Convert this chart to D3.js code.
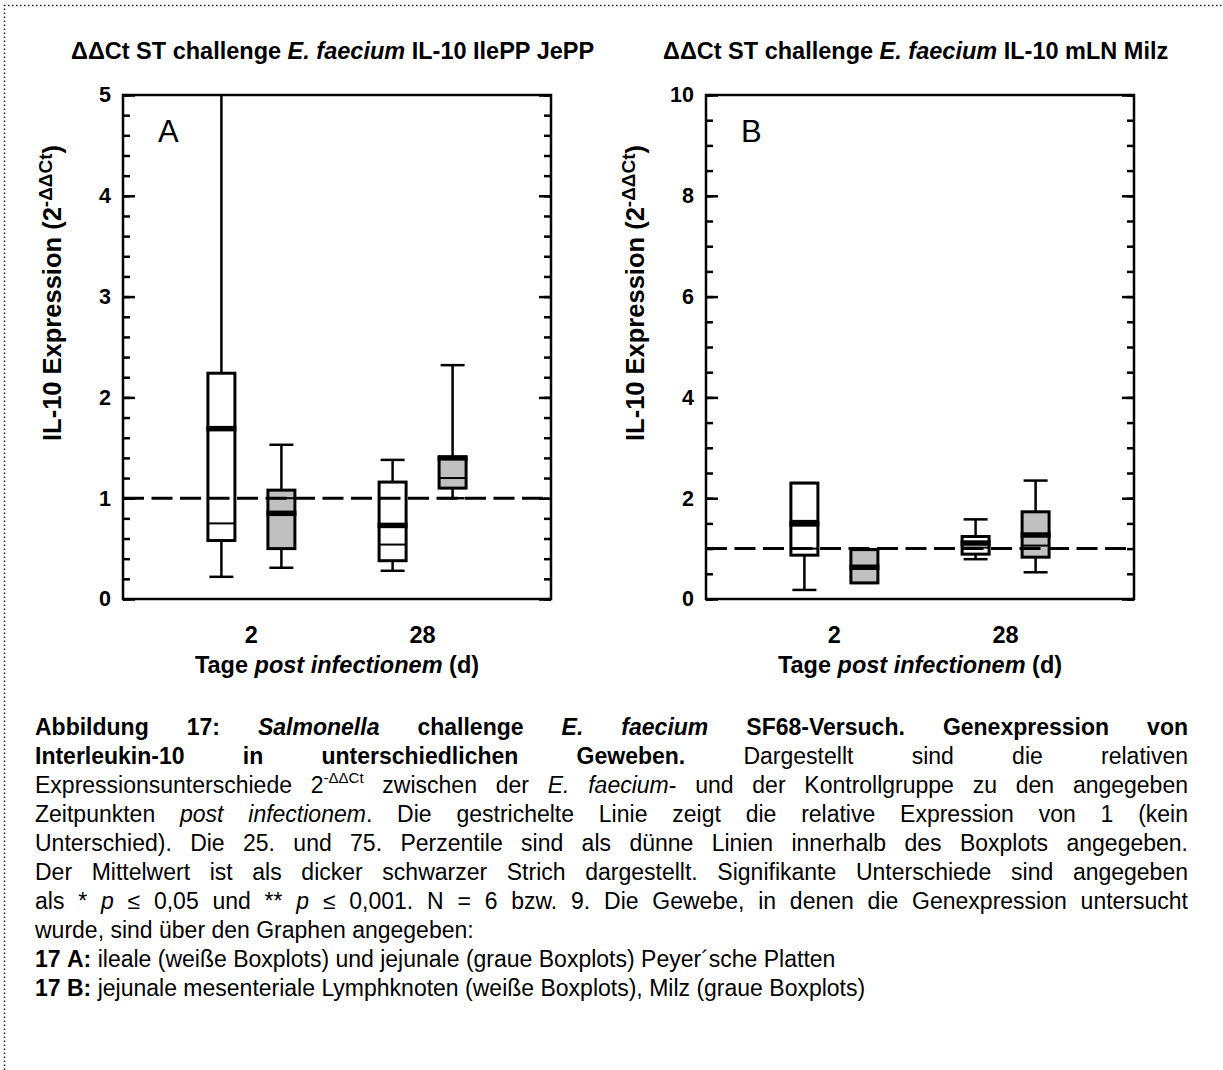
<!DOCTYPE html>
<html>
<head>
<meta charset="utf-8">
<script src="https://cdn.jsdelivr.net/npm/d3@7"></script>
<style>
body { margin: 0; background: #fff; }
svg { font-family: "Liberation Sans", Arial, sans-serif; }
</style>
</head>
<body>
<div id="chart"></div>
<script>
// categories
var days = ["2", "28"];
var groups = ["weiss", "grau"];
var boxDay = ["2", "2", "28", "28"];
var boxGroup = ["weiss", "grau", "weiss", "grau"];

// panel A: IlePP (weiss), JePP (grau)
var aWhiskLow = [0.22, 0.31, 0.28, 1.00];
var aBoxLow = [0.58, 0.50, 0.38, 1.10];
var aThin = [[0.75], [1.00], [0.54], [1.20]];
var aMean = [1.69, 0.85, 0.73, 1.40];
var aBoxHigh = [2.24, 1.08, 1.16, 1.40];
var aWhiskHigh = [5.60, 1.53, 1.38, 2.32];
var aTicks = [0, 1, 2, 3, 4, 5];

// panel B: mLN (weiss), Milz (grau)
var bWhiskLow = [0.18, 0.32, 0.79, 0.53];
var bBoxLow = [0.87, 0.32, 0.89, 0.83];
var bThin = [[1.00, 1.55], [0.98], [1.02], [1.06]];
var bMean = [1.49, 0.63, 1.11, 1.27];
var bBoxHigh = [2.30, 0.98, 1.24, 1.73];
var bWhiskHigh = [2.30, 0.98, 1.58, 2.35];
var bTicks = [0, 2, 4, 6, 8, 10];

// layout
var svgWidth = 1223;
var svgHeight = 1070;
var panelTop = 95;
var panelWidth = 428;
var panelHeight = 504;

var svg = d3.select("#chart")
    .append("svg")
    .attr("width", svgWidth)
    .attr("height", svgHeight);

svg.append("rect")
    .attr("width", svgWidth)
    .attr("height", svgHeight)
    .attr("fill", "#fff");

// dotted page border
svg.append("path")
    .attr("d", "M4.5,1070V5.5H1223")
    .attr("fill", "none")
    .attr("stroke", "#222")
    .attr("stroke-width", 1.5)
    .attr("stroke-dasharray", "1.5,2.5");

function drawPanel(p) {
    var g = svg.append("g")
        .attr("transform", `translate(${p.left}, ${panelTop})`);

    var y = d3.scaleLinear().domain([0, p.yMax]).range([panelHeight, 0]);
    var x = d3.scalePoint().domain(days).range([0, panelWidth]).padding(0.75);
    var sub = d3.scalePoint().domain(groups).range([-30, 30]);

    // title
    var title = svg.append("text")
        .attr("x", p.titleX)
        .attr("y", 59)
        .attr("font-size", 23.5)
        .attr("font-weight", "bold");
    title.append("tspan").text("\u0394\u0394Ct ST challenge ");
    title.append("tspan").attr("font-style", "italic").text("E. faecium");
    title.append("tspan").text(" IL-10 " + p.tissue);

    g.append("clipPath")
        .attr("id", "clip" + p.id)
        .append("rect")
        .attr("width", panelWidth)
        .attr("height", panelHeight);

    // minor and major ticks, inward on both sides
    var minor = d3.range(0, p.yMax + 1e-9, p.minorStep);
    g.append("g")
        .call(d3.axisLeft(y).tickValues(minor).tickSize(-7).tickSizeOuter(0).tickFormat(""));
    g.append("g")
        .attr("transform", `translate(${panelWidth}, 0)`)
        .call(d3.axisRight(y).tickValues(minor).tickSize(-7).tickSizeOuter(0).tickFormat(""));
    g.append("g")
        .attr("class", "ylab")
        .call(d3.axisLeft(y).tickValues(p.ticks).tickSize(-12).tickSizeOuter(0)
            .tickPadding(12).tickFormat(d3.format("d")));
    g.append("g")
        .attr("transform", `translate(${panelWidth}, 0)`)
        .call(d3.axisRight(y).tickValues(p.ticks).tickSize(-12).tickSizeOuter(0).tickFormat(""));

    g.selectAll(".domain").remove();
    g.selectAll(".tick line").attr("stroke", "#000").attr("stroke-width", 2.5);
    g.selectAll(".ylab text")
        .attr("font-family", "Liberation Sans, Arial, sans-serif")
        .attr("font-size", 21.5)
        .attr("font-weight", "bold")
        .attr("fill", "#000");

    // box data
    var items = d3.range(4).map(i => ({
        day: boxDay[i],
        grp: boxGroup[i],
        lo: p.whiskLow[i],
        q1: p.boxLow[i],
        thin: p.thin[i],
        mean: p.mean[i],
        q3: p.boxHigh[i],
        hi: p.whiskHigh[i]
    }));

    var boxes = g.append("g")
        .attr("clip-path", `url(#clip${p.id})`)
        .selectAll("g")
        .data(items)
        .enter()
        .append("g")
        .attr("transform", d => `translate(${x(d.day) + sub(d.grp)}, 0)`);

    var bw = 27;
    var cw = 24;

    // whiskers
    boxes.append("line")
        .attr("y1", d => y(d.hi)).attr("y2", d => y(d.q3))
        .attr("stroke", "#000").attr("stroke-width", 2.5);
    boxes.append("line")
        .attr("y1", d => y(d.q1)).attr("y2", d => y(d.lo))
        .attr("stroke", "#000").attr("stroke-width", 2.5);
    boxes.append("line")
        .attr("x1", -cw / 2).attr("x2", cw / 2)
        .attr("y1", d => y(d.hi)).attr("y2", d => y(d.hi))
        .attr("stroke", "#000").attr("stroke-width", 2.5);
    boxes.append("line")
        .attr("x1", -cw / 2).attr("x2", cw / 2)
        .attr("y1", d => y(d.lo)).attr("y2", d => y(d.lo))
        .attr("stroke", "#000").attr("stroke-width", 2.5);

    // box
    boxes.append("rect")
        .attr("x", -bw / 2)
        .attr("width", bw)
        .attr("y", d => y(d.q3))
        .attr("height", d => y(d.q1) - y(d.q3))
        .attr("fill", d => d.grp === "grau" ? "#c0c0c0" : "#fff")
        .attr("stroke", "#000")
        .attr("stroke-width", 3);

    // thin percentile lines
    boxes.selectAll(".thin")
        .data(d => d.thin)
        .enter()
        .append("line")
        .attr("class", "thin")
        .attr("x1", -bw / 2).attr("x2", bw / 2)
        .attr("y1", v => y(v)).attr("y2", v => y(v))
        .attr("stroke", "#000").attr("stroke-width", 2);

    // mean, thick
    boxes.append("line")
        .attr("x1", -bw / 2 - 1.5).attr("x2", bw / 2 + 1.5)
        .attr("y1", d => y(d.mean)).attr("y2", d => y(d.mean))
        .attr("stroke", "#000").attr("stroke-width", 5.5);

    // reference line at 1
    g.append("line")
        .attr("x1", 0).attr("x2", panelWidth)
        .attr("y1", y(1)).attr("y2", y(1))
        .attr("stroke", "#000")
        .attr("stroke-width", 3)
        .attr("stroke-dasharray", "21,7.5");

    // frame
    g.append("rect")
        .attr("width", panelWidth)
        .attr("height", panelHeight)
        .attr("fill", "none")
        .attr("stroke", "#000")
        .attr("stroke-width", 2.5);

    // panel letter
    g.append("text")
        .attr("x", 35)
        .attr("y", 47)
        .attr("font-size", 31)
        .text(p.id);

    // x tick labels
    g.selectAll(".xlab")
        .data(days)
        .enter()
        .append("text")
        .attr("class", "xlab")
        .attr("x", d => x(d))
        .attr("y", panelHeight + 44)
        .attr("text-anchor", "middle")
        .attr("font-size", 23.5)
        .attr("font-weight", "bold")
        .text(d => d);

    // x axis title
    var xt = g.append("text")
        .attr("x", panelWidth / 2)
        .attr("y", panelHeight + 74)
        .attr("text-anchor", "middle")
        .attr("font-size", 23.5)
        .attr("font-weight", "bold");
    xt.append("tspan").text("Tage ");
    xt.append("tspan").attr("font-style", "italic").text("post infectionem");
    xt.append("tspan").text(" (d)");

    // y axis title
    var yt = g.append("text")
        .attr("transform", `translate(-62, 198) rotate(-90)`)
        .attr("text-anchor", "middle")
        .attr("font-size", 25.5)
        .attr("font-weight", "bold");
    yt.append("tspan").text("IL-10 Expression (2");
    yt.append("tspan").attr("font-size", 19).attr("dy", -9).text("-\u0394\u0394Ct");
    yt.append("tspan").attr("dy", 9).text(")");
}

drawPanel({
    id: "A", left: 123, titleX: 71, yMax: 5, minorStep: 0.2, ticks: aTicks, tissue: "IlePP JePP",
    whiskLow: aWhiskLow, boxLow: aBoxLow, thin: aThin, mean: aMean, boxHigh: aBoxHigh, whiskHigh: aWhiskHigh
});
drawPanel({
    id: "B", left: 706, titleX: 663, yMax: 10, minorStep: 0.5, ticks: bTicks, tissue: "mLN Milz",
    whiskLow: bWhiskLow, boxLow: bBoxLow, thin: bThin, mean: bMean, boxHigh: bBoxHigh, whiskHigh: bWhiskHigh
});

// caption lines, runs: b bold, i italic, s superscript
var captionLines = [
    [{t: "Abbildung 17: ", b: 1}, {t: "Salmonella", b: 1, i: 1}, {t: " challenge ", b: 1}, {t: "E. faecium", b: 1, i: 1}, {t: " SF68-Versuch. Genexpression von", b: 1}],
    [{t: "Interleukin-10 in unterschiedlichen Geweben.", b: 1}, {t: " Dargestellt sind die relativen"}],
    [{t: "Expressionsunterschiede 2"}, {t: "-\u0394\u0394Ct", s: 1}, {t: " zwischen der "}, {t: "E. faecium", i: 1}, {t: "- und der Kontrollgruppe zu den angegeben"}],
    [{t: "Zeitpunkten "}, {t: "post infectionem", i: 1}, {t: ". Die gestrichelte Linie zeigt die relative Expression von 1 (kein"}],
    [{t: "Unterschied). Die 25. und 75. Perzentile sind als d\u00fcnne Linien innerhalb des Boxplots angegeben."}],
    [{t: "Der Mittelwert ist als dicker schwarzer Strich dargestellt. Signifikante Unterschiede sind angegeben"}],
    [{t: "als * "}, {t: "p", i: 1}, {t: " \u2264 0,05 und ** "}, {t: "p", i: 1}, {t: " \u2264 0,001. N = 6 bzw. 9. Die Gewebe, in denen die Genexpression untersucht"}],
    [{t: "wurde, sind \u00fcber den Graphen angegeben:"}],
    [{t: "17 A:", b: 1}, {t: " ileale (wei\u00dfe Boxplots) und jejunale (graue Boxplots) Peyer\u00b4sche Platten"}],
    [{t: "17 B:", b: 1}, {t: " jejunale mesenteriale Lymphknoten (wei\u00dfe Boxplots), Milz (graue Boxplots)"}]
];
var justified = [true, true, true, true, true, true, true, false, false, false];

var capLeft = 35;
var capRight = 1188;
var capTop = 735;
var capStep = 29;
var capSize = 23;

var cap = svg.append("g").attr("font-size", capSize);

captionLines.forEach(function(runs, li) {
    // split runs into words
    var words = [];
    var cur = [];
    runs.forEach(function(r) {
        r.t.split(" ").forEach(function(part, k) {
            if (k > 0 && cur.length) { words.push(cur); cur = []; }
            if (part.length) cur.push(Object.assign({}, r, {t: part}));
        });
    });
    if (cur.length) words.push(cur);

    var baseY = capTop + li * capStep;
    var nodes = words.map(function(w) {
        var t = cap.append("text").attr("y", baseY);
        var raised = false;
        w.forEach(function(r) {
            var ts = t.append("tspan").text(r.t);
            if (r.b) ts.attr("font-weight", "bold");
            if (r.i) ts.attr("font-style", "italic");
            if (r.s) { ts.attr("font-size", 15).attr("dy", -10); raised = true; }
            else if (raised) { ts.attr("dy", 10); raised = false; }
        });
        return t;
    });
    var widths = nodes.map(n => n.node().getComputedTextLength());
    var total = d3.sum(widths);
    var gap = justified[li] ? (capRight - capLeft - total) / (nodes.length - 1) : capSize * 0.278;
    var xPos = capLeft;
    nodes.forEach(function(n, k) {
        n.attr("x", xPos);
        xPos += widths[k] + gap;
    });
});
</script>
</body>
</html>
